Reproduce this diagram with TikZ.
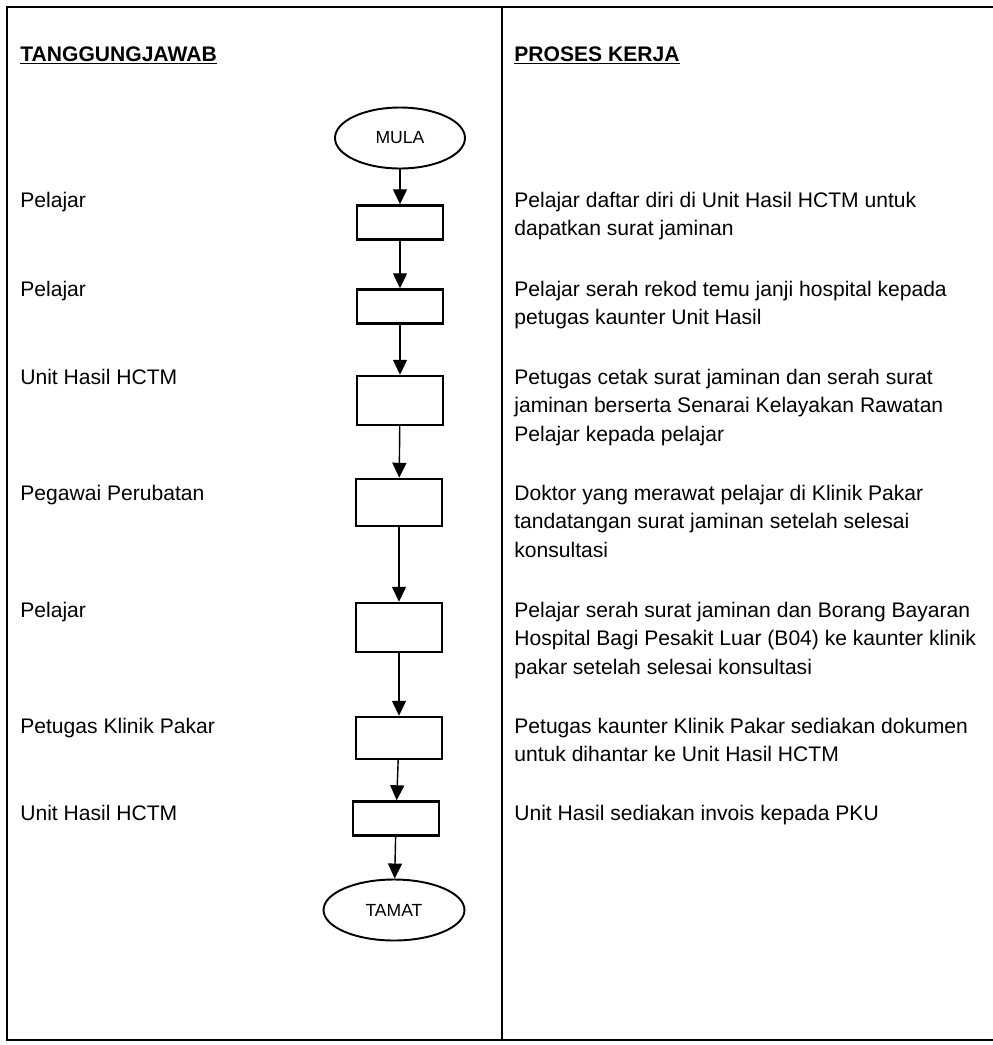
\documentclass[tikz,border=0pt]{standalone}
\usepackage{fontspec}
\setmainfont{Liberation Sans}
\usetikzlibrary{positioning,shapes,arrows.meta}

\begin{document}
\begin{tikzpicture}[x=0.02cm,y=-0.02cm,
    f/.style={-{Triangle[length=0.3cm,width=0.28cm]},line width=0.8pt},%
    s/.style={draw,ellipse,line width=1.1pt,minimum width=2.6cm,minimum height=1.22cm,font=\fontsize{10}{12}\selectfont},%
    b/.style={draw,rectangle,line width=1.4pt,minimum width=1.72cm,inner sep=0pt},%
    t/.style={anchor=base west,inner sep=0pt,align=left,font=\fontsize{12}{16.2}\selectfont}]
    \useasboundingbox (0,0) rectangle (993,1045);
    % bingkai
    \draw[line width=1pt] (993,7) -- (7,7) -- (7,1040) -- (993,1040);
    \draw[line width=0.8pt] (502,7) -- (502,1040);
    \node[t] (H1) at (20,61) {\underline{\textbf{TANGGUNGJAWAB}}};
    \node[t] (H2) at (514,61) {\underline{\textbf{PROSES KERJA}}};
    % carta alir
    \node[s] (Mula) at (400,138) {MULA};
    \node[b,minimum height=0.68cm] (K1) at (400,222.5) {};
    \node[b,minimum height=0.68cm] (K2) at (400,306.5) {};
    \node[b,minimum height=0.98cm] (K3) at (400,400.5) {};
    \node[b,minimum height=0.94cm] (K4) at (399,502.5) {};
    \node[b,minimum height=0.98cm] (K5) at (399,627.5) {};
    \node[b,minimum height=0.84cm] (K6) at (399,738) {};
    \node[b,minimum height=0.68cm] (K7) at (396,818.5) {};
    \node[s,minimum width=2.82cm] (Tamat) at (394,910) {TAMAT};
    \draw[f] (Mula) -- (K1);
    \draw[f] (K1) -- (K2);
    \draw[f] (K2) -- (K3);
    \draw[f] (K3) -- (K4);
    \draw[f] (K4) -- (K5);
    \draw[f] (K5) -- (K6);
    \draw[f] (K6) -- (K7);
    \draw[f] (K7) -- (Tamat);
    % tanggungjawab
    \node[t] (L1) at (20,207) {Pelajar};
    \node[t] (L2) at (20,296) {Pelajar};
    \node[t] (L3) at (20,384) {Unit Hasil HCTM};
    \node[t] (L4) at (20,500) {Pegawai Perubatan};
    \node[t] (L5) at (20,617) {Pelajar};
    \node[t] (L6) at (20,733) {Petugas Klinik Pakar};
    \node[t] (L7) at (20,820) {Unit Hasil HCTM};
    % proses kerja (kedudukan = garis dasar baris akhir)
    \node[t] (R1) at (514,235.5) {Pelajar daftar diri di Unit Hasil HCTM untuk\\dapatkan surat jaminan};
    \node[t] (R2) at (514,324.5) {Pelajar serah rekod temu janji hospital kepada\\petugas kaunter Unit Hasil};
    \node[t] (R3) at (514,441) {Petugas cetak surat jaminan dan serah surat\\jaminan berserta Senarai Kelayakan Rawatan\\Pelajar kepada pelajar};
    \node[t] (R4) at (514,557) {Doktor yang merawat pelajar di Klinik Pakar\\tandatangan surat jaminan setelah selesai\\konsultasi};
    \node[t] (R5) at (514,674) {Pelajar serah surat jaminan dan Borang Bayaran\\Hospital Bagi Pesakit Luar (B04) ke kaunter klinik\\pakar setelah selesai konsultasi};
    \node[t] (R6) at (514,761.5) {Petugas kaunter Klinik Pakar sediakan dokumen\\untuk dihantar ke Unit Hasil HCTM};
    \node[t] (R7) at (514,820) {Unit Hasil sediakan invois kepada PKU};
\end{tikzpicture}
\end{document}
